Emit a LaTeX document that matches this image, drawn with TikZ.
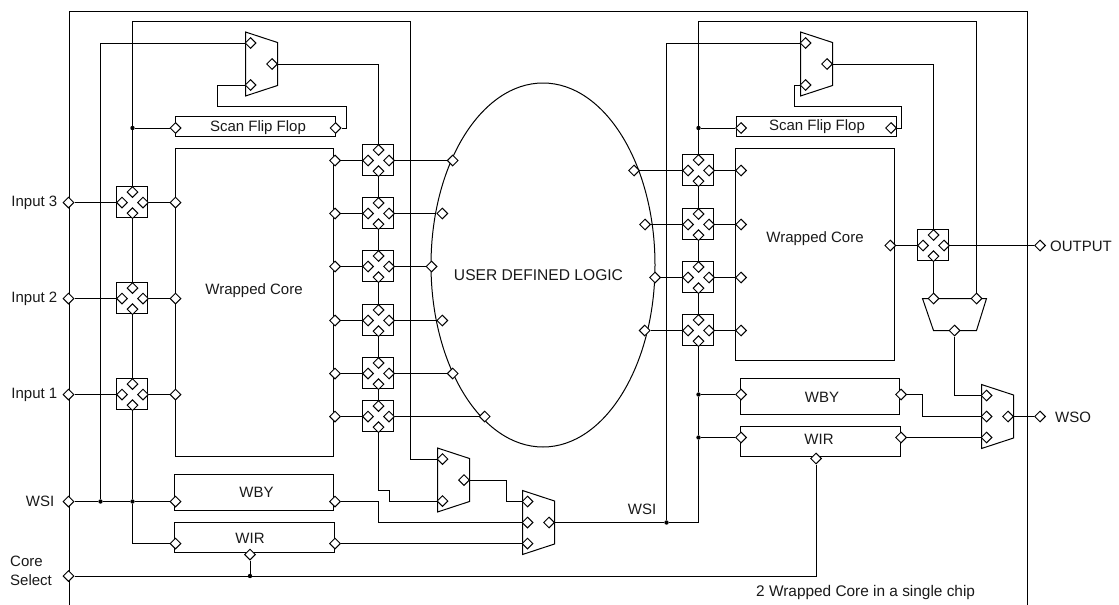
\documentclass[tikz,border=0pt]{standalone}
\usepackage{fontspec}
\setmainfont{Liberation Sans}
\usetikzlibrary{shapes.geometric}
\tikzset{
  wire/.style={draw=black,line width=1pt},
  outl/.style={draw=black,line width=1pt},
  pinn/.style={diamond,draw=black,fill=white,line width=1.0pt,minimum width=11pt,minimum height=11pt,inner sep=0pt},
  dotn/.style={circle,fill=black,inner sep=0pt,minimum size=4.4pt},
  blockn/.style={rectangle,outl,inner sep=0pt},
  lab/.style={font=\fontsize{15}{18}\selectfont,inner sep=0pt,text=black!90},
}
\newcommand\pinat[2]{\node[pinn] (#1) at (#2) {};}
\newcommand\dotat[2]{\node[dotn] (#1) at (#2) {};}
\newcommand\blockat[5]{\path[outl] (#2,#3) rectangle (#4,#5);\coordinate (#1) at ({(#2+#4)/2},{(#3+#5)/2});}
\newcommand\switchat[3]{%
  \node[blockn,minimum width=31pt,minimum height=31pt] (#1) at (#2-0.5,#3-0.5) {};
  \pinat{#1-n}{#2,#3-10.5}\pinat{#1-w}{#2-10.5,#3}\pinat{#1-e}{#2+10.5,#3}\pinat{#1-s}{#2,#3+10.7}}
\newcommand\muxtwo[3]{%
  \path[outl] (#2,#3-32) -- (#2+32,#3-21.5) -- (#2+32,#3+21.5) -- (#2,#3+32) -- cycle;
  \pinat{#1-a}{#2+5,#3-21}\pinat{#1-b}{#2+5,#3+21}\pinat{#1-o}{#2+26.5,#3}}
\newcommand\muxthree[3]{%
  \path[outl] (#2,#3-32) -- (#2+32,#3-21.5) -- (#2+32,#3+21.5) -- (#2,#3+32) -- cycle;
  \pinat{#1-a}{#2+5,#3-21}\pinat{#1-b}{#2+5,#3}\pinat{#1-c}{#2+5,#3+21}\pinat{#1-o}{#2+26.5,#3}}
\begin{document}
\begin{tikzpicture}[x=1pt,y=-1pt]
\useasboundingbox (0,0) rectangle (1119,605);
% chip frame
\path[outl] (69,605) -- (69,11.5) -- (1027.5,11.5) -- (1027.5,605);
% user logic
\node[ellipse,outl,inner sep=0pt,minimum width=224pt,minimum height=364pt] (ul) at (543,265) {};
% left core
\blockat{coreL}{175.5}{148.5}{333.5}{456.5}
\blockat{ffL}{175.5}{116.5}{335.5}{136.5}
\blockat{wbyL}{174.5}{474.5}{333.5}{510.5}
\blockat{wirL}{174.5}{522.5}{334.5}{552.5}
% right core
\blockat{coreR}{735.5}{148.5}{894.5}{360.5}
\blockat{ffR}{736.5}{116.5}{896.5}{136.5}
\blockat{wbyR}{740.5}{378.5}{899.5}{414.5}
\blockat{wirR}{740.5}{426.5}{900.5}{456.5}
% switches
\switchat{a1}{132.5}{202.5}\switchat{a2}{132.5}{298.5}\switchat{a3}{132.5}{394.5}
\switchat{b1}{378.5}{160.5}\switchat{b2}{378.5}{213.5}\switchat{b3}{378.5}{266.5}
\switchat{b4}{378.5}{320.5}\switchat{b5}{378.5}{373.5}\switchat{b6}{378.5}{416.5}
\switchat{c1}{698.5}{170.5}\switchat{c2}{698.5}{224.5}\switchat{c3}{698.5}{277.5}\switchat{c4}{698.5}{330.5}
\switchat{d1}{933.5}{245.5}
% muxes
\muxtwo{mA}{245.5}{64}
\muxtwo{mB}{800.5}{64}
\muxtwo{mC}{437.5}{480}
\muxthree{mD}{522.5}{522.5}
\muxthree{mE}{981.5}{416.5}
\path[outl] (922.5,298.5) -- (986.5,298.5) -- (976.5,330.5) -- (933.5,330.5) -- cycle;
\pinat{mF-a}{933.5,298.5}\pinat{mF-b}{976.5,298.5}\pinat{mF-o}{954.5,330.5}
% pins: inputs and outputs
\pinat{in3}{68.5,202.5}\pinat{in2}{68.5,298.5}\pinat{in1}{68.5,394.5}
\pinat{wsi}{68.5,501.5}\pinat{cs}{68.5,576}
\pinat{out}{1040,245.5}\pinat{wso}{1040,416.5}
% left core pins
\pinat{cl1}{175.5,202.5}\pinat{cl2}{175.5,298.5}\pinat{cl3}{175.5,394.5}
\pinat{cr1}{335,160.5}\pinat{cr2}{335,213.5}\pinat{cr3}{335,266.5}\pinat{cr4}{335,320.5}\pinat{cr5}{335,373.5}\pinat{cr6}{335,416.5}
\pinat{fl1}{175.5,128}\pinat{fl2}{335.5,128}
\pinat{wbl1}{175.5,501.5}\pinat{wbl2}{335,501.5}
\pinat{wil1}{175.5,543.5}\pinat{wil2}{335,543.5}\pinat{wil3}{250,554.5}
% logic pins
\pinat{e1}{452.7,160.5}\pinat{e2}{442.3,213.5}\pinat{e3}{431.5,266.5}\pinat{e4}{442.3,320.5}\pinat{e5}{452.7,373.5}\pinat{e6}{484.7,416.5}
\pinat{g1}{634,170.5}\pinat{g2}{645,224.5}\pinat{g3}{655,277.5}\pinat{g4}{644.7,330.5}
% right core pins
\pinat{h1}{741,170.5}\pinat{h2}{741,224.5}\pinat{h3}{741,277.5}\pinat{h4}{741,330.5}
\pinat{hr}{890.3,245.5}
\pinat{fr1}{741,128}\pinat{fr2}{891,128}
\pinat{wbr1}{741,394.5}\pinat{wbr2}{901,394.5}
\pinat{wir1}{741,437.5}\pinat{wir2}{901,437.5}\pinat{wir3}{816,458.5}
% junctions
\dotat{j1}{100.5,501.5}\dotat{j2}{132.5,501.5}\dotat{j3}{132.5,128}\dotat{j4}{250,576}
\dotat{j5}{666.5,522.5}\dotat{j6}{698.5,394.5}\dotat{j7}{698.5,437.5}\dotat{j8}{698.5,128}
% waypoints
\coordinate (t1) at (132.5,21.5);\coordinate (t2) at (410,21.5);\coordinate (t3) at (410,459);
\coordinate (t4) at (698.5,21.5);\coordinate (t5) at (976.5,21.5);
\coordinate (k1) at (100.5,43);\coordinate (k2) at (666.5,43);
\coordinate (k3) at (698.5,522.5);
% connectors, left side
\draw[wire] (in3) -- (a1-w);\draw[wire] (a1-e) -- (cl1);
\draw[wire] (in2) -- (a2-w);\draw[wire] (a2-e) -- (cl2);
\draw[wire] (in1) -- (a3-w);\draw[wire] (a3-e) -- (cl3);
\draw[wire] (a1-s) -- (a2-n);\draw[wire] (a2-s) -- (a3-n);\draw[wire] (a3-s) -- (j2);
\draw[wire] (a1-n) -- (j3);\draw[wire] (j3) -- (t1) -- (t2) -- (t3) -- (mC-a);
\draw[wire] (j3) -- (fl1);
\draw[wire] (wsi) -- (j1);\draw[wire] (j1) -- (j2);\draw[wire] (j2) -- (wbl1);
\draw[wire] (j1) -- (k1) -- (mA-a);
\draw[wire] (j2) |- (wil1);
\draw[wire] (mA-b) -| (217.5,106.5) -| (346.5,128) -- (fl2);
\draw[wire] (mA-o) -| (b1-n);
\foreach \i/\j in {1/2,2/3,3/4,4/5,5/6}{\draw[wire] (b\i-s) -- (b\j-n);}
\foreach \i in {1,...,6}{\draw[wire] (cr\i) -- (b\i-w);\draw[wire] (b\i-e) -- (e\i);}
\draw[wire] (b6-s) |- (389.5,490.5) |- (mC-b);
\draw[wire] (mC-o) -| (506.5,501.5) -- (mD-a);
\draw[wire] (wbl2) -| (378.5,522.5) -- (mD-b);
\draw[wire] (wil2) -- (mD-c);
\draw[wire] (cs) -- (j4);\draw[wire] (j4) -| (wir3);\draw[wire] (j4) -- (wil3);
% connectors, right side
\draw[wire] (mD-o) -- (j5);\draw[wire] (j5) -- (k3) -- (j7);\draw[wire] (j7) -- (j6);\draw[wire] (j6) -- (c4-s);
\draw[wire] (j5) -- (k2) -- (mB-a);
\draw[wire] (j6) -- (wbr1);\draw[wire] (j7) -- (wir1);
\foreach \i/\j in {1/2,2/3,3/4}{\draw[wire] (c\i-s) -- (c\j-n);}
\foreach \i in {1,...,4}{\draw[wire] (g\i) -- (c\i-w);\draw[wire] (c\i-e) -- (h\i);}
\draw[wire] (c1-n) -- (j8);\draw[wire] (j8) -- (t4) -- (t5) -- (mF-b);
\draw[wire] (j8) -- (fr1);
\draw[wire] (mB-b) -| (794.5,106.5) -| (901.5,128) -- (fr2);
\draw[wire] (mB-o) -| (d1-n);
\draw[wire] (hr) -- (d1-w);\draw[wire] (d1-e) -- (out);
\draw[wire] (d1-s) -- (mF-a);
\draw[wire] (mF-o) |- (mE-a);
\draw[wire] (wbr2) -| (922.5,416.5) -- (mE-b);
\draw[wire] (wir2) -- (mE-c);
\draw[wire] (mE-o) -- (wso);
% labels
\node[lab] (tA) at (254,291) {Wrapped Core};
\node[lab] (tB) at (815,239) {Wrapped Core};
\node[lab] (tC) at (258,128) {Scan Flip Flop};
\node[lab] (tD) at (817,127) {Scan Flip Flop};
\node[lab] (tE) at (256.5,492) {WBY};
\node[lab] (tF) at (250,538) {WIR};
\node[lab] (tG) at (822,397) {WBY};
\node[lab] (tH) at (819,439) {WIR};
\node[lab,font=\fontsize{15.6}{18}\selectfont] (tI) at (538.5,275) {USER DEFINED LOGIC};
\node[lab,anchor=east] (tJ) at (57.5,202.7) {Input 3};
\node[lab,anchor=east] (tK) at (57.5,298.7) {Input 2};
\node[lab,anchor=east] (tL) at (57.5,394.7) {Input 1};
\node[lab,anchor=east] (tM) at (54.5,501.5) {WSI};
\node[lab,anchor=west] (tN) at (10,561) {Core};
\node[lab,anchor=west] (tO) at (10,580) {Select};
\node[lab,anchor=west] (tP) at (1050,246.5) {OUTPUT};
\node[lab,anchor=west] (tQ) at (1055,417.5) {WSO};
\node[lab] (tR) at (642,509) {WSI};
\node[lab,anchor=west,font=\fontsize{15.4}{18}\selectfont] (tS) at (756,593) {2 Wrapped Core in a single chip};
\end{tikzpicture}
\end{document}
